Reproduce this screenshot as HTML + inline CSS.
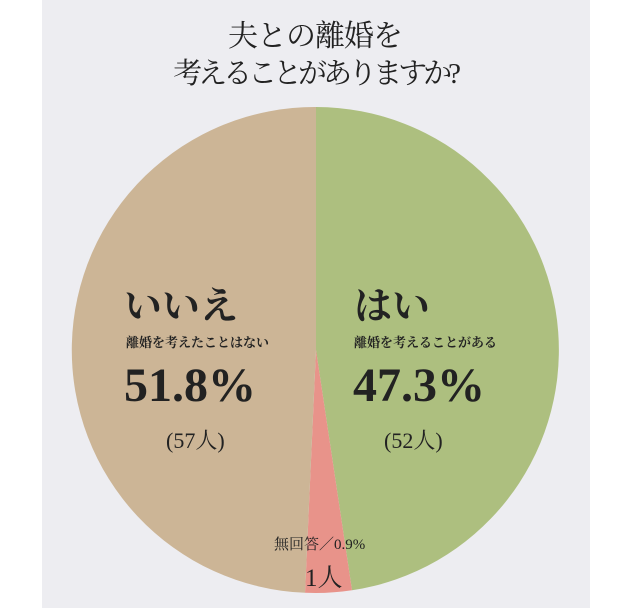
<!DOCTYPE html>
<html><head><meta charset="utf-8"><style>
body{margin:0;width:630px;height:608px;background:#fff;overflow:hidden;position:relative}
.p{position:absolute;left:42px;top:0;width:548px;height:608px;background:#ededf1}
svg{position:absolute;left:0;top:0}
.t{position:absolute;white-space:nowrap;color:#222;font-family:"Liberation Serif","Noto Serif CJK SC",serif;line-height:1}
</style></head><body>
<div class="p"></div>
<svg width="630" height="608">
<path d="M316,350 L316,107 A243,243 0 0 1 352,590.3 Z" fill="#adbf7f"/>
<path d="M316,350 L352,590.3 A243,243 0 0 1 305,592.8 Z" fill="#e8938a"/>
<path d="M316,350 L305,592.8 A243,243 0 0 1 316,107 Z" fill="#ccb596"/>
</svg>
<div class="t" style="left:0;width:630px;text-align:center;top:22px;font-size:30px;letter-spacing:-1px">夫との離婚を</div>
<div class="t" style="left:0;width:630px;text-align:center;top:60px;font-size:29px;letter-spacing:-4px">考えることがありますか?</div>
<div class="t" style="left:124px;top:288px;font-size:38px;font-weight:bold">いいえ</div>
<div class="t" style="left:126px;top:336px;font-size:13px;font-weight:bold">離婚を考えたことはない</div>
<div class="t" style="left:124px;top:362px;font-size:48px;font-weight:bold">51.8%</div>
<div class="t" style="left:166px;top:430px;font-size:22px">(57人)</div>
<div class="t" style="left:354px;top:288px;font-size:38px;font-weight:bold">はい</div>
<div class="t" style="left:354px;top:336px;font-size:13px;font-weight:bold">離婚を考えることがある</div>
<div class="t" style="left:353px;top:362px;font-size:48px;font-weight:bold">47.3%</div>
<div class="t" style="left:384px;top:430px;font-size:22px">(52人)</div>
<div class="t" style="left:274px;top:538px;font-size:15px">無回答／0.9%</div>
<div class="t" style="left:305px;top:566px;font-size:25px">1人</div>
</body></html>
